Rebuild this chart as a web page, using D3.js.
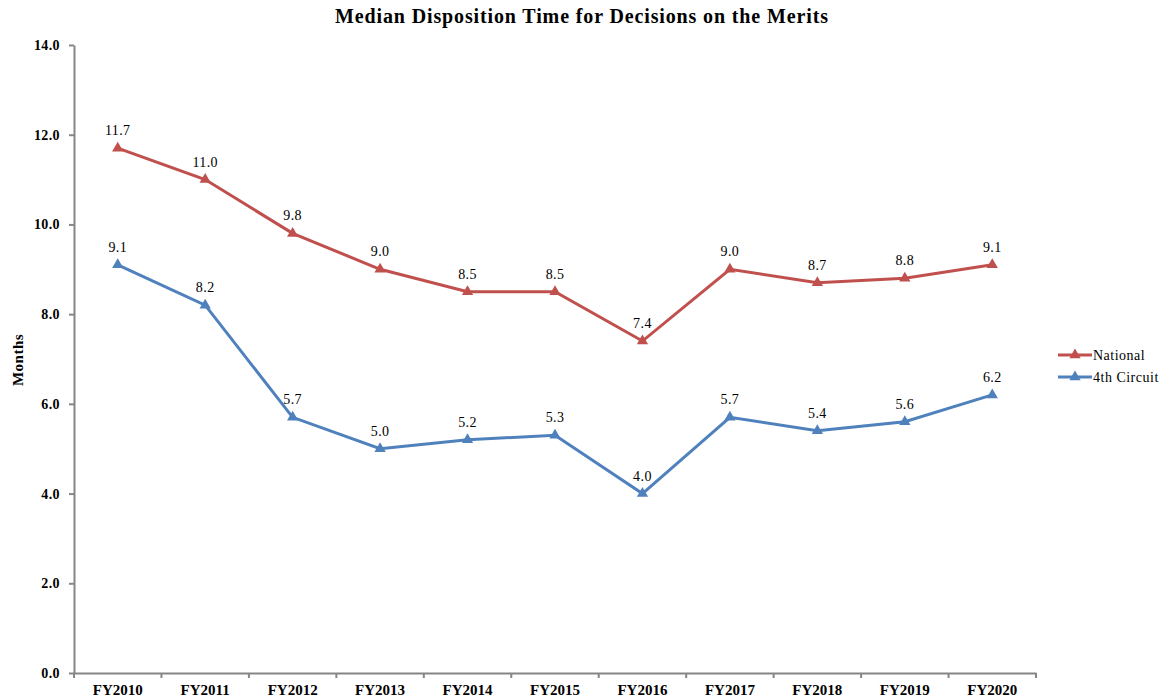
<!DOCTYPE html>
<html lang="en">
<head>
<meta charset="UTF-8">
<title>Median Disposition Time for Decisions on the Merits</title>
<style>
    body { margin: 0; background: #fff; }
    svg text { font-family: "Liberation Serif", "DejaVu Serif", serif; }
</style>
</head>
<body>
<div id="chart"></div>
<script src="https://d3js.org/d3.v7.min.js"></script>
<script>
// chart data
const years = ["FY2010", "FY2011", "FY2012", "FY2013", "FY2014", "FY2015", "FY2016", "FY2017", "FY2018", "FY2019", "FY2020"];
const national = [11.7, 11.0, 9.8, 9.0, 8.5, 8.5, 7.4, 9.0, 8.7, 8.8, 9.1];
const fourthCircuit = [9.1, 8.2, 5.7, 5.0, 5.2, 5.3, 4.0, 5.7, 5.4, 5.6, 6.2];
const yTicks = [0, 2, 4, 6, 8, 10, 12, 14];

const series = [
    { name: "National", values: national, color: "#C0504D" },
    { name: "4th Circuit", values: fourthCircuit, color: "#4F81BD" }
];

const width = 1168, height = 698;
const plotLeft = 74, plotRight = 1036, plotTop = 45, plotBottom = 673;

const svg = d3.select("#chart").append("svg")
    .attr("width", width)
    .attr("height", height);

const x = d3.scaleBand().domain(years).range([plotLeft, plotRight]);
const y = d3.scaleLinear().domain([0, 14]).range([plotBottom, plotTop]);

// title (the original is set quite wide)
svg.append("text")
    .attr("x", 335).attr("y", 23)
    .attr("font-size", 20).attr("font-weight", "bold")
    .attr("textLength", 493).attr("lengthAdjust", "spacing")
    .text("Median Disposition Time for Decisions on the Merits");

// y axis
const yAxis = svg.append("g")
    .attr("transform", `translate(${plotLeft},0)`)
    .call(d3.axisLeft(y).tickValues(yTicks).tickFormat(d3.format(".1f")).tickSize(5).tickSizeOuter(0));

// x axis, ticks sit on the band edges
const xAxis = svg.append("g")
    .attr("transform", `translate(0,${plotBottom})`)
    .call(d3.axisBottom(x).tickSize(0).tickPadding(11));
xAxis.selectAll(".edge")
    .data(d3.range(years.length + 1))
    .enter().append("line")
    .attr("class", "edge")
    .attr("x1", i => plotLeft + i * x.step()).attr("x2", i => plotLeft + i * x.step())
    .attr("y1", 0).attr("y2", 5);

[yAxis, xAxis].forEach(g => {
    g.selectAll("path, line").attr("stroke", "#868686").attr("stroke-width", 2);
    g.selectAll("text")
        .attr("fill", "#000")
        .attr("font-weight", "bold")
        .attr("font-family", "Liberation Serif, serif");
});
yAxis.selectAll("text").attr("dx", -6).attr("font-size", 14).attr("letter-spacing", 0.4);
xAxis.selectAll("text").attr("font-size", 15);

// y axis title
svg.append("text")
    .attr("transform", "translate(23,360) rotate(-90)")
    .attr("text-anchor", "middle")
    .attr("font-size", 15).attr("font-weight", "bold")
    .attr("letter-spacing", 0.5)
    .text("Months");

const cx = (d, i) => x(years[i]) + x.bandwidth() / 2;
const line = d3.line().x(cx).y(d => y(d));
const tri = d3.symbol().type(d3.symbolTriangle).size(55);

series.forEach(s => {
    const g = svg.append("g");
    g.append("path")
        .datum(s.values)
        .attr("d", line)
        .attr("fill", "none")
        .attr("stroke", s.color)
        .attr("stroke-width", 3);
    g.selectAll("path.mark")
        .data(s.values)
        .enter().append("path")
        .attr("class", "mark")
        .attr("d", tri)
        .attr("transform", (d, i) => `translate(${cx(d, i)},${y(d)})`)
        .attr("fill", s.color);
    g.selectAll("text")
        .data(s.values)
        .enter().append("text")
        .attr("x", cx)
        .attr("y", d => y(d) - 13)
        .attr("text-anchor", "middle")
        .attr("font-size", 14)
        .attr("letter-spacing", 0.4)
        .attr("fill", "#000")
        .text(d => d.toFixed(1));
});

// legend
const legend = svg.append("g").attr("transform", "translate(1058,355)");
series.forEach((s, i) => {
    const row = legend.append("g").attr("transform", `translate(0,${i * 22})`);
    row.append("line")
        .attr("x1", 0).attr("x2", 34)
        .attr("stroke", s.color).attr("stroke-width", 3);
    row.append("path")
        .attr("d", tri)
        .attr("transform", "translate(17,0)")
        .attr("fill", s.color);
    row.append("text")
        .attr("x", 35).attr("y", 5)
        .attr("font-size", 14)
        .attr("letter-spacing", 0.5)
        .text(s.name);
});
</script>
</body>
</html>
